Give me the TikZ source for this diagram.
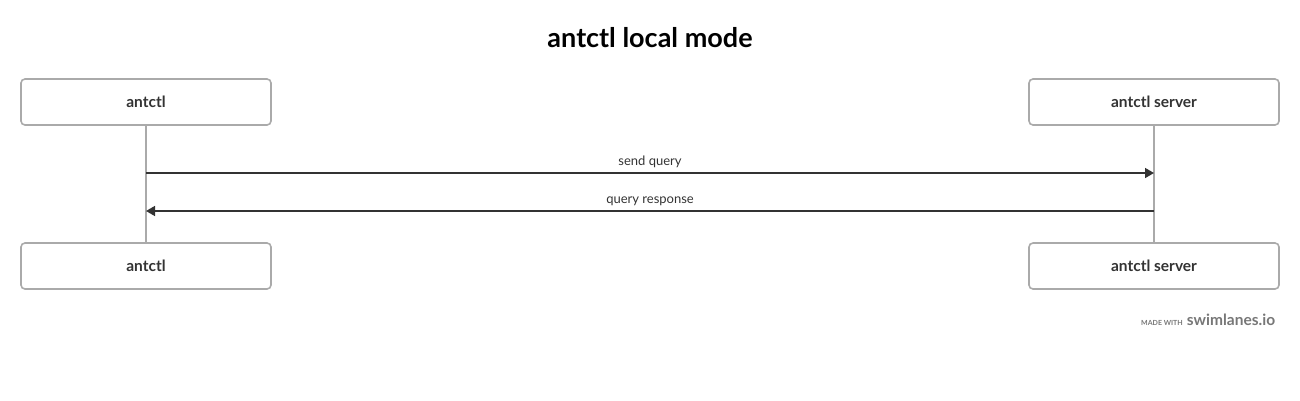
\documentclass[tikz,border=0pt]{standalone}
\usepackage{fontspec}
\setmainfont{Lato}
\usetikzlibrary{arrows.meta, positioning}
\definecolor{boxgray}{HTML}{AAAAAA}
\definecolor{msgdark}{HTML}{333333}
\definecolor{markgray}{HTML}{777777}
\tikzstyle{actor} = [rectangle, rounded corners=4pt, minimum width=250pt, minimum height=46pt, text centered, draw=boxgray, line width=1.6pt, text=msgdark, font=\fontsize{15.5}{18}\selectfont\bfseries]
\tikzstyle{lifeline} = [draw=boxgray, line width=1.6pt]
\tikzstyle{message} = [draw=msgdark, line width=1.6pt, -{Triangle[length=9pt,width=10pt]}]
\tikzstyle{msglabel} = [text=msgdark, font=\fontsize{13}{16}\selectfont, above=1pt]

\begin{document}
\begin{tikzpicture}[x=1pt, y=-1pt, node distance=164pt]
	\useasboundingbox (0,0) rectangle (1300,400);
	\node (title) at (650,38) [text=black, font=\fontsize{27}{32}\selectfont\bfseries] {antctl local mode};
	\node (ctl) [actor] at (146,102) {antctl};
	\node (srv) [actor] at (1154,102) {antctl server};
	\node (ctlend) [actor, below of = ctl] {antctl};
	\node (srvend) [actor, below of = srv] {antctl server};
	\draw [lifeline] (ctl) -- (ctlend);
	\draw [lifeline] (srv) -- (srvend);
	\coordinate (sendA) at (146,173);
	\coordinate (sendB) at (1154,173);
	\coordinate (respA) at (1154,211);
	\coordinate (respB) at (146,211);
	\draw [message] (sendA) -- node[msglabel] {send query} (sendB);
	\draw [message] (respA) -- node[msglabel] {query response} (respB);
	\node (made) at (1162,323) [text=markgray, font=\fontsize{7}{8}\selectfont\bfseries] {MADE WITH};
	\node (brand) at (made.base east) [anchor=base west, xshift=-3pt, text=markgray, font=\fontsize{15.5}{18}\selectfont\bfseries] {swimlanes.io};
\end{tikzpicture}
\end{document}
